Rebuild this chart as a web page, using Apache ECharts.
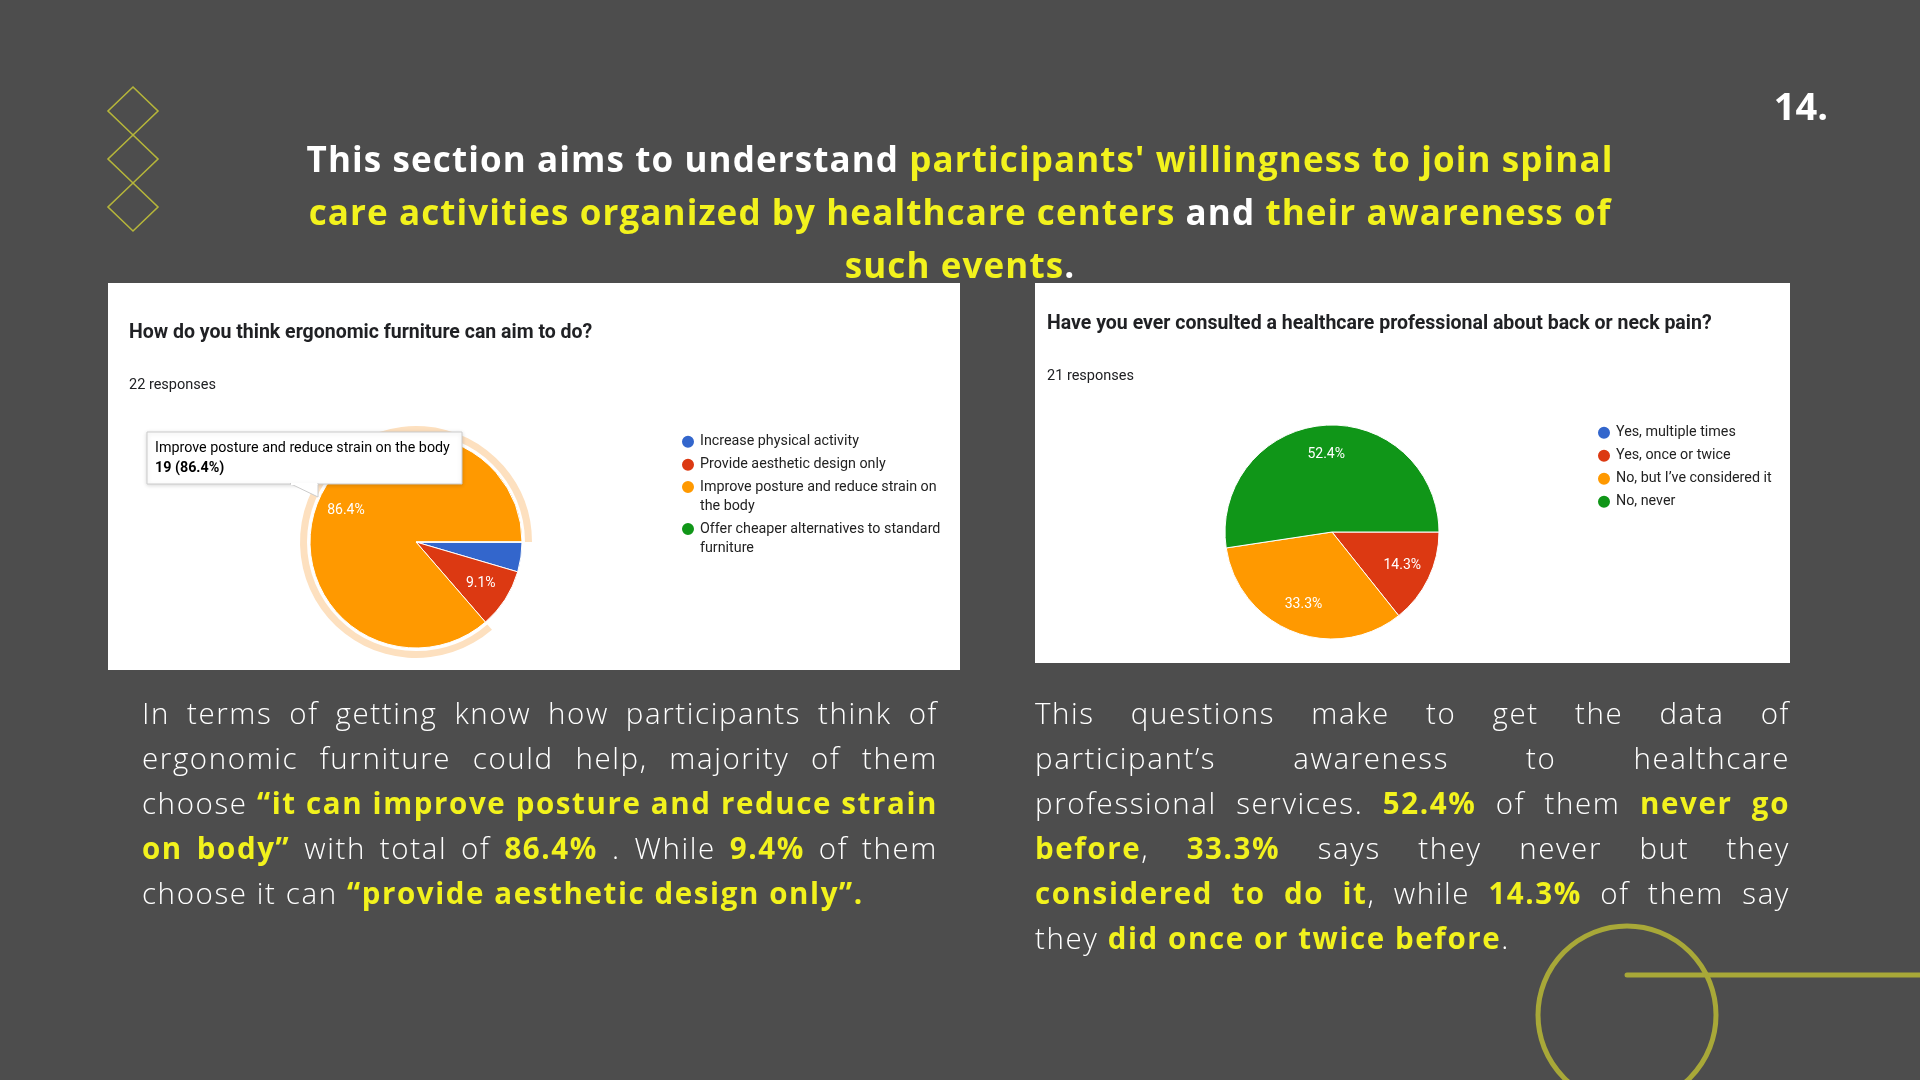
<!DOCTYPE html>
<html>
<head>
<meta charset="utf-8">
<title>Spinal care survey</title>
<script src="https://cdn.jsdelivr.net/npm/echarts@6/dist/echarts.min.js"></script>
<style>
  html, body { margin: 0; padding: 0; background: #4d4d4d; }
  #page { position: relative; width: 1920px; height: 1080px; overflow: hidden; }
  #chart { position: absolute; left: 0; top: 0; width: 1920px; height: 1080px; }
  .txt { position: absolute; color: #fff; font-family: "Open Sans", Lato, sans-serif; }
  .hl { color: #f2f21d; font-weight: 700; }
  #heading { left: 0; width: 1920px; top: 132px; text-align: center; font-size: 35px; letter-spacing: 1.1px; line-height: 53px; font-weight: 700; }
  #pageno { right: 92px; top: 80px; font-size: 38px; line-height: 50px; font-weight: 700; }
  .para { font-size: 29.5px; letter-spacing: 1.6px; line-height: 45px; font-weight: 300; top: 690px; }
  .para div { text-align: justify; text-align-last: justify; white-space: nowrap; }
  .para div.last { text-align-last: left; }
  #paraL { left: 142px; width: 796px; }
  #paraR { left: 1035px; width: 755px; }
</style>
</head>
<body>
<div id="page">
  <div id="chart"></div>
  <div class="txt" id="pageno">14.</div>
  <div class="txt" id="heading">This section aims to understand <span class="hl">participants' willingness to join spinal</span><br><span class="hl">care activities organized by healthcare centers</span> and <span class="hl">their awareness of</span><br><span class="hl">such events</span>.</div>
  <div class="txt para" id="paraL">
    <div>In terms of getting know how participants think of</div>
    <div>ergonomic furniture could help, majority of them</div>
    <div>choose <span class="hl">“it can improve posture and reduce strain</span></div>
    <div><span class="hl">on body”</span> with total of <span class="hl">86.4%</span> . While <span class="hl">9.4%</span> of them</div>
    <div class="last">choose it can <span class="hl">“provide aesthetic design only”.</span></div>
  </div>
  <div class="txt para" id="paraR">
    <div>This questions make to get the data of</div>
    <div>participant’s awareness to healthcare</div>
    <div>professional services. <span class="hl">52.4%</span> of them <span class="hl">never go</span></div>
    <div><span class="hl">before</span>, <span class="hl">33.3%</span> says they never but they</div>
    <div><span class="hl">considered to do it</span>, while <span class="hl">14.3%</span> of them say</div>
    <div class="last">they <span class="hl">did once or twice before</span>.</div>
  </div>
</div>
<script>
// survey 1: ergonomic furniture
var leftTitle = 'How do you think ergonomic furniture can aim to do?';
var leftResponses = '22 responses';
var leftCats = ['Increase physical activity', 'Provide aesthetic design only',
  'Improve posture and reduce strain on the body', 'Offer cheaper alternatives to standard furniture'];
var leftCounts = [1, 2, 19, 0];
var leftHovered = 2;

// survey 2: healthcare professional
var rightTitle = 'Have you ever consulted a healthcare professional about back or neck pain?';
var rightResponses = '21 responses';
var rightCats = ['Yes, multiple times', 'Yes, once or twice', 'No, but I’ve considered it', 'No, never'];
var rightCounts = [0, 3, 7, 11];

var pieColors = ['#3366cc', '#dc3912', '#ff9900', '#109618'];

function toData(cats, counts) {
  return cats.map(function (c, i) { return { name: c, value: counts[i] }; });
}
function sum(a) { return a.reduce(function (s, v) { return s + v; }, 0); }

// word wrap by character count
function wrap(s, max) {
  var lines = [], cur = '';
  s.split(' ').forEach(function (w) {
    if (cur && (cur + ' ' + w).length > max) { lines.push(cur); cur = w; }
    else cur = cur ? cur + ' ' + w : w;
  });
  lines.push(cur);
  return lines.join('\n');
}

var gFont = 'Roboto, Arial, sans-serif';
var legendLine = 19.5;

function pieSeries(center, r, cats, counts) {
  return [{
    type: 'pie',
    center: center,
    radius: [0, r],
    startAngle: 0,
    clockwise: true,
    silent: true,
    data: toData(cats, counts),
    label: { show: false },
    labelLine: { show: false },
    itemStyle: { borderColor: '#fff', borderWidth: 1 }
  }, {
    // labels at about 0.7 of the radius, like the forms chart
    type: 'pie',
    center: center,
    radius: [Math.round(r * 0.4), r],
    startAngle: 0,
    clockwise: true,
    silent: true,
    percentPrecision: 1,
    data: toData(cats, counts),
    itemStyle: { color: 'transparent' },
    labelLine: { show: false },
    label: {
      show: true,
      position: 'inside',
      color: '#fff',
      fontFamily: gFont,
      fontSize: 14,
      formatter: function (p) { return p.percent < 5 ? '' : p.percent.toFixed(1) + '%'; }
    }
  }];
}

// vertical legend block; wrapped items get an empty line on top so the dot sits on the first text line
function legendBlock(names, left, top, wrapped) {
  return {
    orient: 'vertical',
    left: left, top: top,
    padding: 0,
    icon: 'circle', itemWidth: 14, itemHeight: 14, itemGap: 3.5,
    selectedMode: false,
    data: names,
    formatter: wrapped ? function (n) { return '\n' + wrap(n, 38); } : '{name}',
    textStyle: { fontFamily: gFont, fontSize: 14.3, color: '#222', lineHeight: legendLine }
  };
}

var leftTotal = sum(leftCounts);
var tipText = '{a|' + leftCats[leftHovered] + '}\n{b|' + leftCounts[leftHovered] + ' (' +
  (leftCounts[leftHovered] / leftTotal * 100).toFixed(1) + '%)}';

var diamonds = [111, 159, 207].map(function (cy) {
  return {
    type: 'polygon',
    shape: { points: [[133, cy - 24], [158, cy], [133, cy + 24], [108, cy]] },
    style: { fill: 'none', stroke: '#b5b53a', lineWidth: 1.6 }
  };
});

var option = {
  backgroundColor: '#4d4d4d',
  animation: false,
  color: pieColors,
  graphic: diamonds.concat([
    { type: 'rect', shape: { x: 108, y: 283, width: 852, height: 387 }, style: { fill: '#fff' }, z: -10 },
    { type: 'rect', shape: { x: 1035, y: 283, width: 755, height: 380 }, style: { fill: '#fff' }, z: -10 },
    { type: 'text', x: 129, y: 333, style: { text: leftTitle, font: 'bold 19.5px ' + gFont, fill: '#202124', verticalAlign: 'middle' } },
    { type: 'text', x: 129, y: 385, style: { text: leftResponses, font: '14.5px ' + gFont, fill: '#202124', verticalAlign: 'middle' } },
    { type: 'text', x: 1047, y: 324, style: { text: rightTitle, font: 'bold 19.5px ' + gFont, fill: '#202124', verticalAlign: 'middle' } },
    { type: 'text', x: 1047, y: 376, style: { text: rightResponses, font: '14.5px ' + gFont, fill: '#202124', verticalAlign: 'middle' } },
    { type: 'circle', shape: { cx: 1627, cy: 1015, r: 89 }, style: { fill: 'none', stroke: '#a8a838', lineWidth: 5 } },
    { type: 'line', shape: { x1: 1627, y1: 975, x2: 1930, y2: 975 }, style: { stroke: '#a8a838', lineWidth: 5, lineCap: 'round' } },
    // hover tooltip on the orange slice
    { type: 'rect', z: 100, shape: { x: 147, y: 432, width: 315, height: 52 },
      style: { fill: '#fff', stroke: '#cccccc', lineWidth: 1, shadowBlur: 4, shadowColor: 'rgba(0,0,0,0.15)', shadowOffsetY: 1 } },
    { type: 'polygon', z: 101, shape: { points: [[290, 483.5], [318, 483.5], [318, 497]] },
      style: { fill: '#fff', stroke: '#cccccc', lineWidth: 1 } },
    { type: 'line', z: 102, shape: { x1: 291, y1: 484, x2: 317.5, y2: 484 }, style: { stroke: '#fff', lineWidth: 2 } },
    { type: 'text', z: 103, x: 155, y: 438, style: {
      text: tipText,
      rich: {
        a: { font: '14.3px ' + gFont, fill: '#000', lineHeight: 20 },
        b: { font: 'bold 14.3px ' + gFont, fill: '#000', lineHeight: 20 }
      } } }
  ]),
  legend: [
    legendBlock(leftCats.slice(0, 2), 680, 432, false),
    legendBlock([leftCats[2]], 680, 487 - 1.5 * legendLine, true),
    legendBlock([leftCats[3]], 680, 529 - 1.5 * legendLine, true),
    legendBlock(rightCats, 1596, 423, false)
  ],
  series: pieSeries([416, 542], 106, leftCats, leftCounts)
    .concat(pieSeries([1332, 532], 107, rightCats, rightCounts))
    .concat([{
      // highlight ring around the hovered slice
      type: 'pie',
      center: [416, 542],
      radius: [109, 116],
      startAngle: 0,
      silent: true,
      legendHoverLink: false,
      data: leftCats.map(function (c, i) {
        return { name: c, value: leftCounts[i], itemStyle: { color: i === leftHovered ? '#fde0bf' : 'transparent' } };
      }),
      label: { show: false }, labelLine: { show: false }
    }])
};

var myChart = echarts.init(document.getElementById('chart'));
myChart.setOption(option);
</script>
</body>
</html>
